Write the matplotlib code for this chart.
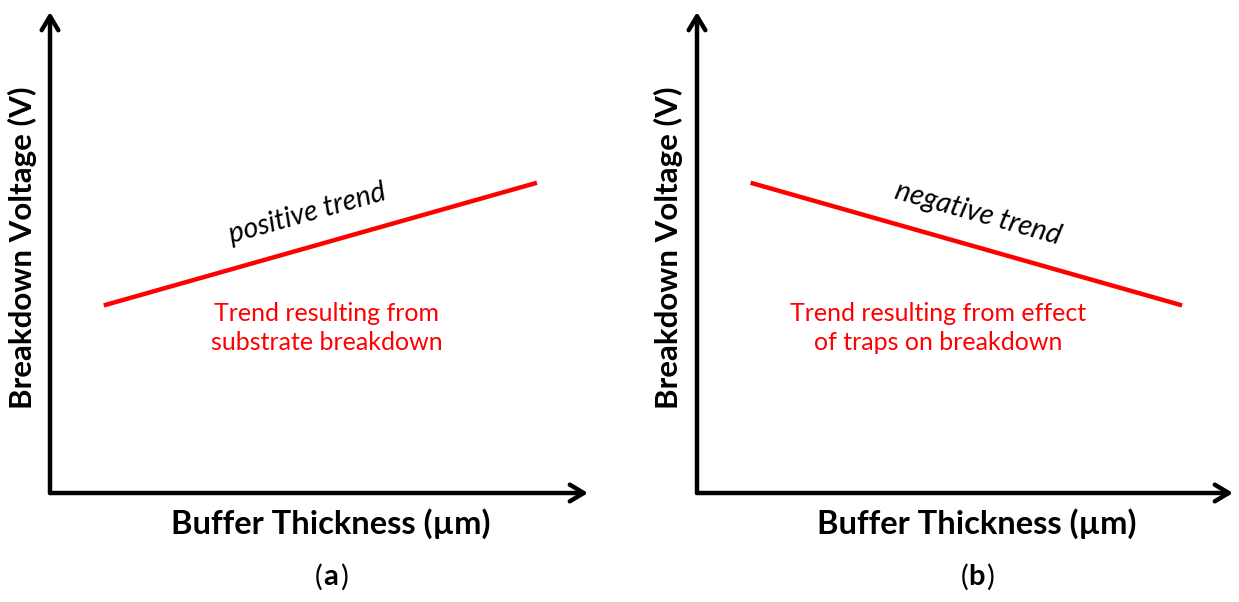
import matplotlib.pyplot as plt

plt.rcParams['font.family'] = ['Lato', 'DejaVu Sans']

# datos (unidades arbitrarias, ejes 0-10)
espesor = [1.0, 9.05]
bv_positivo = [3.9, 6.45]
bv_negativo = [6.45, 3.9]

ETIQ_X = "Buffer Thickness (µm)"
ETIQ_Y = "Breakdown Voltage (V)"
ROJO = "#FF0000"

W, H = 1239, 602
fig = plt.figure(figsize=(W / 100, H / 100), dpi=100)


def px(x, y):
    return x / W, 1 - y / H


def panel(x0, x1, y0, y1, yvals):
    ax = fig.add_axes([x0 / W, 1 - y0 / H, (x1 - x0) / W, (y0 - y1) / H])
    ax.set_xlim(0, 10)
    ax.set_ylim(0, 10)
    ax.axis("off")
    # ejes con flechas
    flecha = dict(arrowstyle="->,head_length=1.0,head_width=0.6", lw=3.2,
                  color="black", shrinkA=0, shrinkB=0)
    ax.annotate("", xy=(1, 0), xytext=(0, 0), xycoords="axes fraction",
                arrowprops=flecha, annotation_clip=False)
    ax.annotate("", xy=(0, 1), xytext=(0, 0), xycoords="axes fraction",
                arrowprops=flecha, annotation_clip=False)
    ax.plot(espesor, yvals, color=ROJO, lw=3.2, solid_capstyle="butt")
    return ax


# --- panel (a) ---
panel(50, 588, 493, 12, bv_positivo)
fig.text(*px(307, 214), "positive trend", style="italic", fontsize=20.5,
         rotation=15.7, ha="center", va="center", rotation_mode="anchor")
fig.text(*px(327, 328), "Trend resulting from\nsubstrate breakdown",
         color=ROJO, fontsize=18, ha="center", va="center", linespacing=1.32)
fig.text(*px(22, 248), ETIQ_Y, fontsize=22.5, fontweight="bold", rotation=90,
         ha="center", va="center")
fig.text(*px(331, 524), ETIQ_X, fontsize=23.5, fontweight="bold",
         ha="center", va="center")

# --- panel (b) ---
panel(697, 1233, 493, 12, bv_negativo)
fig.text(*px(978, 214), "negative trend", style="italic", fontsize=20.5,
         rotation=-15.7, ha="center", va="center", rotation_mode="anchor")
fig.text(*px(938, 328), "Trend resulting from effect\nof traps on breakdown",
         color=ROJO, fontsize=18, ha="center", va="center", linespacing=1.32)
fig.text(*px(668, 248), ETIQ_Y, fontsize=22.5, fontweight="bold", rotation=90,
         ha="center", va="center")
fig.text(*px(977, 524), ETIQ_X, fontsize=23.5, fontweight="bold",
         ha="center", va="center")

# letras de los paneles: parentesis normal, letra en negrita
for cx, letra in [(331, "a"), (977, "b")]:
    fig.text(*px(cx, 577), letra, fontsize=21, fontweight="bold",
             ha="center", va="center")
    fig.text(*px(cx - 9, 577), "(", fontsize=21, ha="right", va="center")
    fig.text(*px(cx + 9, 577), ")", fontsize=21, ha="left", va="center")

fig.savefig("out.png", dpi=100, facecolor="white")
